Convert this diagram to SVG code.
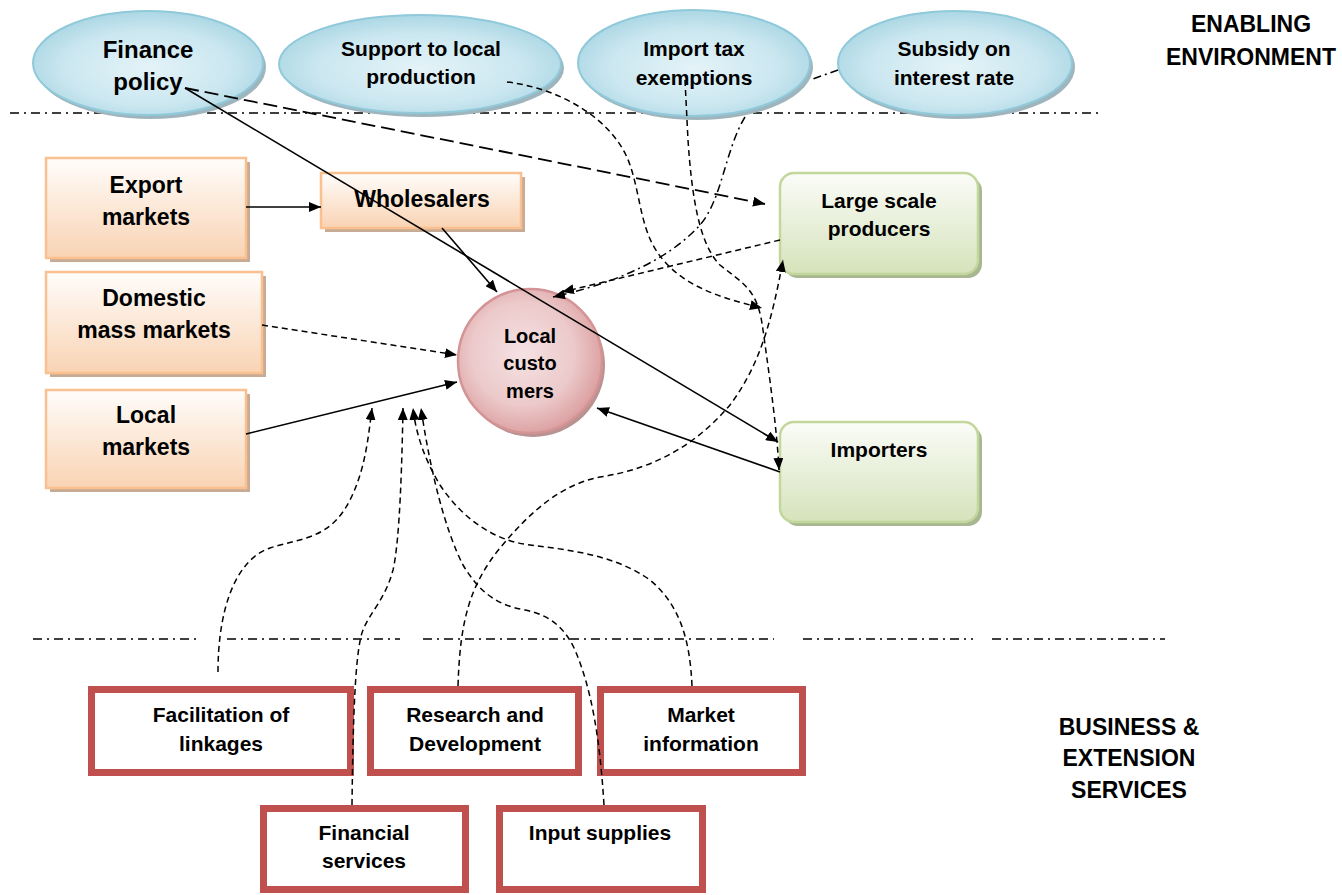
<svg xmlns="http://www.w3.org/2000/svg" width="1342" height="895" viewBox="0 0 1342 895">
  <defs>
    <radialGradient id="gBlue" cx="50%" cy="55%" r="60%">
      <stop offset="0" stop-color="#e4f3f8"/>
      <stop offset="0.6" stop-color="#cbe7f0"/>
      <stop offset="1" stop-color="#a3d3e1"/>
    </radialGradient>
    <linearGradient id="gOrange" x1="0" y1="0" x2="0" y2="1">
      <stop offset="0" stop-color="#fffdfb"/>
      <stop offset="1" stop-color="#f9d3b3"/>
    </linearGradient>
    <linearGradient id="gGreen" x1="0" y1="0" x2="0" y2="1">
      <stop offset="0" stop-color="#fbfcf8"/>
      <stop offset="1" stop-color="#d5e3bb"/>
    </linearGradient>
    <radialGradient id="gPink" cx="45%" cy="45%" r="60%">
      <stop offset="0" stop-color="#f5e2e3"/>
      <stop offset="0.6" stop-color="#ecc9ca"/>
      <stop offset="1" stop-color="#d9999a"/>
    </radialGradient>
    <marker id="arrow" viewBox="0 0 12 10" refX="12" refY="5" markerWidth="12" markerHeight="10" markerUnits="userSpaceOnUse" orient="auto">
      <path d="M0,0 L12,5 L0,10 z" fill="#000"/>
    </marker>
  </defs>
  <style>
    .t { font-family: "Liberation Sans", Arial, sans-serif; font-weight: bold; fill: #000; text-anchor: middle; }
    .ell { fill: url(#gBlue); stroke: #8fc9da; stroke-width: 2; }
    .ellSh { fill: #9fb5bd; }
    .org { fill: url(#gOrange); stroke: #fac08f; stroke-width: 2.5; }
    .orgSh { fill: #c7ab95; }
    .grn { fill: url(#gGreen); stroke: #c3d69b; stroke-width: 2.5; }
    .grnSh { fill: #a8b791; }
    .pnk { fill: url(#gPink); stroke: #d49495; stroke-width: 2.5; }
    .pnkSh { fill: #b99292; }
    .red { fill: #fff; stroke: #c0504d; stroke-width: 7; }
    .divider { stroke: #000; stroke-width: 1.5; stroke-dasharray: 9 5 2 5; fill: none; }
    .c { fill: none; stroke: #000; stroke-width: 1.6; }
    .dash { stroke-dasharray: 6 4; stroke-width: 1.5; }
    .ldash { stroke-dasharray: 14 6; stroke-width: 1.8; }
    .dashdot { stroke-dasharray: 8 4 2 4; stroke-width: 1.5; }
    .arr { marker-end: url(#arrow); }
  </style>

  <!-- section dividers -->
  <g id="dividers">
    <path class="divider" d="M10,113 H184 M207,113 H935 M956,113 H1098"/>
    <path class="divider" d="M33,639 H201 M227,639 H400 M423,639 H774 M803,639 H973 M992,639 H1165"/>
  </g>

  <!-- enabling environment -->
  <g id="finance-policy">
    <ellipse class="ellSh" cx="151" cy="67" rx="115" ry="52"/>
    <ellipse class="ell" cx="148" cy="63" rx="115" ry="52"/>
    <text class="t" x="148" y="58" font-size="24">Finance</text>
    <text class="t" x="148" y="90" font-size="24">policy</text>
  </g>
  <g id="support-local-production">
    <ellipse class="ellSh" cx="423" cy="68" rx="141" ry="49"/>
    <ellipse class="ell" cx="420" cy="64" rx="141" ry="49"/>
    <text class="t" x="421" y="56" font-size="21">Support to local</text>
    <text class="t" x="421" y="84" font-size="21">production</text>
  </g>
  <g id="import-tax-exemptions">
    <ellipse class="ellSh" cx="697" cy="67" rx="116" ry="53"/>
    <ellipse class="ell" cx="694" cy="63" rx="116" ry="53"/>
    <text class="t" x="694" y="56" font-size="21">Import tax</text>
    <text class="t" x="694" y="85" font-size="21">exemptions</text>
  </g>
  <g id="subsidy-interest-rate">
    <ellipse class="ellSh" cx="958" cy="67" rx="117" ry="52"/>
    <ellipse class="ell" cx="955" cy="63" rx="117" ry="52"/>
    <text class="t" x="954" y="56" font-size="21">Subsidy on</text>
    <text class="t" x="954" y="85" font-size="21">interest rate</text>
  </g>

  <!-- markets -->
  <g id="export-markets">
    <rect class="orgSh" x="50" y="162" width="200" height="100"/>
    <rect class="org" x="46" y="158" width="200" height="100"/>
    <text class="t" x="146" y="193" font-size="23">Export</text>
    <text class="t" x="146" y="225" font-size="23">markets</text>
  </g>
  <g id="wholesalers">
    <rect class="orgSh" x="325" y="177" width="200" height="55"/>
    <rect class="org" x="321" y="173" width="200" height="55"/>
    <text class="t" x="422" y="207" font-size="23">Wholesalers</text>
  </g>
  <g id="domestic-mass-markets">
    <rect class="orgSh" x="50" y="276" width="216" height="101"/>
    <rect class="org" x="46" y="272" width="216" height="101"/>
    <text class="t" x="154" y="306" font-size="23">Domestic</text>
    <text class="t" x="154" y="338" font-size="23">mass markets</text>
  </g>
  <g id="local-markets">
    <rect class="orgSh" x="50" y="394" width="200" height="98"/>
    <rect class="org" x="46" y="390" width="200" height="98"/>
    <text class="t" x="146" y="423" font-size="23">Local</text>
    <text class="t" x="146" y="455" font-size="23">markets</text>
  </g>

  <g id="local-customers">
    <circle class="pnkSh" cx="533" cy="365" r="72"/>
    <circle class="pnk" cx="530" cy="361" r="72"/>
    <text class="t" x="530" y="343" font-size="20">Local</text>
    <text class="t" x="530" y="370" font-size="20">custo</text>
    <text class="t" x="530" y="398" font-size="20">mers</text>
  </g>

  <g id="large-scale-producers">
    <rect class="grnSh" x="784" y="177" width="198" height="101" rx="14"/>
    <rect class="grn" x="780" y="173" width="198" height="101" rx="14"/>
    <text class="t" x="879" y="208" font-size="21">Large scale</text>
    <text class="t" x="879" y="236" font-size="21">producers</text>
  </g>
  <g id="importers">
    <rect class="grnSh" x="784" y="426" width="198" height="100" rx="14"/>
    <rect class="grn" x="780" y="422" width="198" height="100" rx="14"/>
    <text class="t" x="879" y="457" font-size="21">Importers</text>
  </g>

  <!-- business & extension services -->
  <g id="facilitation-of-linkages">
    <rect class="red" x="91.5" y="689.5" width="259" height="83"/>
    <text class="t" x="221" y="722" font-size="21">Facilitation of</text>
    <text class="t" x="221" y="751" font-size="21">linkages</text>
  </g>
  <g id="research-development">
    <rect class="red" x="370.5" y="689.5" width="208" height="83"/>
    <text class="t" x="475" y="722" font-size="21">Research and</text>
    <text class="t" x="475" y="751" font-size="21">Development</text>
  </g>
  <g id="market-information">
    <rect class="red" x="600.5" y="689.5" width="202" height="83"/>
    <text class="t" x="701" y="722" font-size="21">Market</text>
    <text class="t" x="701" y="751" font-size="21">information</text>
  </g>
  <g id="financial-services">
    <rect class="red" x="263.5" y="808.5" width="202" height="81"/>
    <text class="t" x="364" y="840" font-size="21">Financial</text>
    <text class="t" x="364" y="868" font-size="21">services</text>
  </g>
  <g id="input-supplies">
    <rect class="red" x="499.5" y="808.5" width="203" height="81"/>
    <text class="t" x="600" y="840" font-size="21">Input supplies</text>
  </g>

  <!-- section titles -->
  <g id="title-enabling">
    <text class="t" x="1251" y="32" font-size="23">ENABLING</text>
    <text class="t" x="1251" y="65" font-size="23">ENVIRONMENT</text>
  </g>
  <g id="title-business">
    <text class="t" x="1129" y="735" font-size="23">BUSINESS &amp;</text>
    <text class="t" x="1129" y="766" font-size="23">EXTENSION</text>
    <text class="t" x="1129" y="798" font-size="23">SERVICES</text>
  </g>

  <!-- connectors -->
  <g id="connectors">
    <path class="c arr" d="M246,207 L321,207"/>
    <path class="c arr" d="M442,228 L497,292"/>
    <path class="c arr" d="M185,88 L778,442"/>
    <path class="c ldash arr" d="M185,88 L765,204"/>
    <path class="c dash arr" d="M262,325 L457,355"/>
    <path class="c arr" d="M246,434 L457,382"/>
    <path class="c arr" d="M780,472 L597,408"/>
    <path class="c dash arr" d="M780,240 L562,292"/>
    <path class="c dashdot arr" d="M838,70 L810,80 M745,117 C725,150 722,200 700,225 C670,258 620,282 553,297"/>
    <path class="c dash arr" d="M507,82 C560,88 615,120 630,165 C642,200 640,235 665,262 C690,290 730,300 762,308"/>
    <path class="c dash arr" d="M685,80 L688,140 C692,200 700,245 720,265 C745,285 758,290 763,330 C770,380 777,430 779,470"/>
    <path class="c dash arr" d="M458,686 C460,620 470,585 500,548 C530,512 560,485 600,477 C660,468 700,440 730,405 C760,365 772,320 783,260"/>
    <path class="c dash arr" d="M218,672 C218,610 235,560 270,548 C300,538 330,540 350,500 C365,470 368,440 372,408"/>
    <path class="c dash arr" d="M352,805 C353,720 355,650 363,630 C370,612 385,600 393,570 C400,540 402,460 403,408"/>
    <path class="c dash arr" d="M692,686 C690,640 680,605 650,580 C615,555 570,550 530,545 C490,540 460,515 440,485 C425,460 416,435 413,408"/>
    <path class="c dash arr" d="M604,805 C600,740 592,690 575,650 C565,628 550,615 525,610 C495,605 478,590 463,565 C445,530 430,470 421,408"/>
  </g>
</svg>
